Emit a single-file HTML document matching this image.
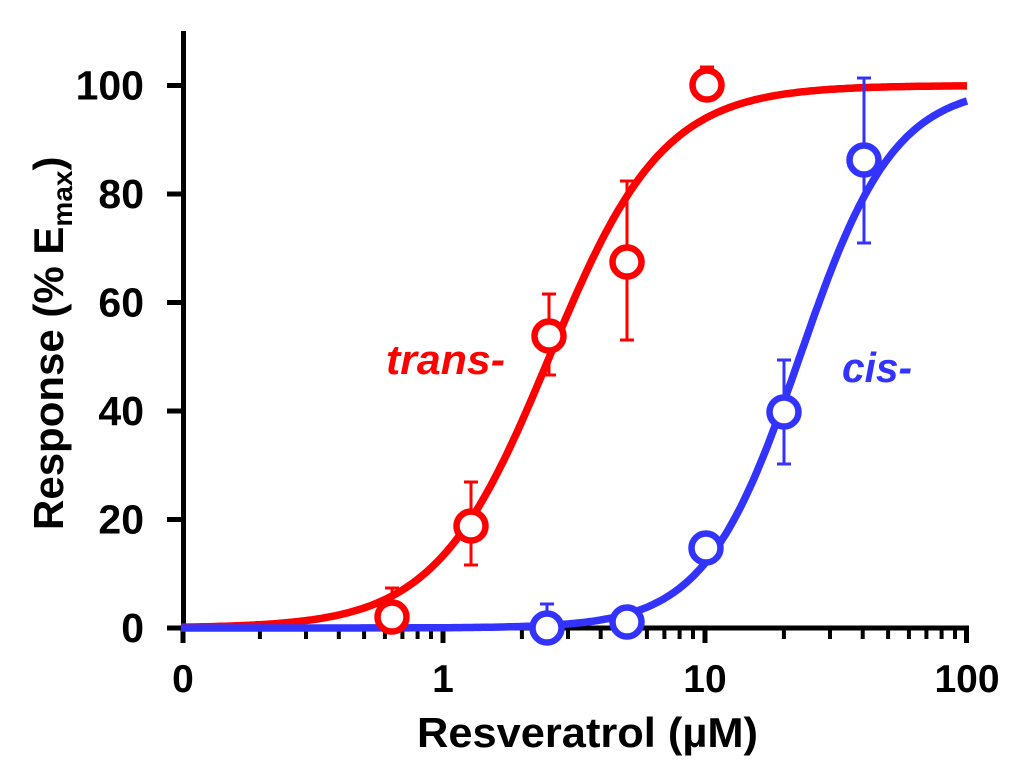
<!DOCTYPE html>
<html>
<head>
<meta charset="utf-8">
<style>
  html, body { margin: 0; padding: 0; background: #ffffff; }
  svg { display: block; }
  text { font-family: "Liberation Sans", Arial, sans-serif; font-weight: bold; }
</style>
</head>
<body>
<svg width="1024" height="783" viewBox="0 0 1024 783" xmlns="http://www.w3.org/2000/svg">
  <rect x="0" y="0" width="1024" height="783" fill="#ffffff"/>

  <!-- Axes -->
  <line x1="183.5" y1="31" x2="183.5" y2="630.5" stroke="#000" stroke-width="5"/>
  <line x1="181" y1="628" x2="969" y2="628" stroke="#000" stroke-width="5"/>

  <!-- Y ticks -->
  <g stroke="#000" stroke-width="5">
    <line x1="167" y1="628" x2="184" y2="628"/>
    <line x1="167" y1="519.5" x2="184" y2="519.5"/>
    <line x1="167" y1="411" x2="184" y2="411"/>
    <line x1="167" y1="302.5" x2="184" y2="302.5"/>
    <line x1="167" y1="194" x2="184" y2="194"/>
    <line x1="167" y1="85.5" x2="184" y2="85.5"/>
  </g>

  <!-- X major ticks -->
  <g stroke="#000" stroke-width="5">
    <line x1="183" y1="628" x2="183" y2="643"/>
    <line x1="443" y1="628" x2="443" y2="643"/>
    <line x1="705" y1="628" x2="705" y2="643"/>
    <line x1="966.5" y1="628" x2="966.5" y2="643"/>
  </g>
  <!-- X minor ticks -->
  <g stroke="#000" stroke-width="4">
    <line x1="259.9" y1="628" x2="259.9" y2="639"/>
    <line x1="306.0" y1="628" x2="306.0" y2="639"/>
    <line x1="338.8" y1="628" x2="338.8" y2="639"/>
    <line x1="364.1" y1="628" x2="364.1" y2="639"/>
    <line x1="384.9" y1="628" x2="384.9" y2="639"/>
    <line x1="402.4" y1="628" x2="402.4" y2="639"/>
    <line x1="417.6" y1="628" x2="417.6" y2="639"/>
    <line x1="431.0" y1="628" x2="431.0" y2="639"/>

    <line x1="521.9" y1="628" x2="521.9" y2="639"/>
    <line x1="568.0" y1="628" x2="568.0" y2="639"/>
    <line x1="600.7" y1="628" x2="600.7" y2="639"/>
    <line x1="626.1" y1="628" x2="626.1" y2="639"/>
    <line x1="646.9" y1="628" x2="646.9" y2="639"/>
    <line x1="664.4" y1="628" x2="664.4" y2="639"/>
    <line x1="679.6" y1="628" x2="679.6" y2="639"/>
    <line x1="693.0" y1="628" x2="693.0" y2="639"/>

    <line x1="783.9" y1="628" x2="783.9" y2="639"/>
    <line x1="830.0" y1="628" x2="830.0" y2="639"/>
    <line x1="862.7" y1="628" x2="862.7" y2="639"/>
    <line x1="888.1" y1="628" x2="888.1" y2="639"/>
    <line x1="908.9" y1="628" x2="908.9" y2="639"/>
    <line x1="926.4" y1="628" x2="926.4" y2="639"/>
    <line x1="941.6" y1="628" x2="941.6" y2="639"/>
    <line x1="955.0" y1="628" x2="955.0" y2="639"/>
  </g>

  <!-- Y tick labels -->
  <g font-size="41" text-anchor="end" fill="#000">
    <text x="144" y="642">0</text>
    <text x="144" y="533.5">20</text>
    <text x="144" y="425">40</text>
    <text x="144" y="316.5">60</text>
    <text x="144" y="208">80</text>
    <text x="144" y="99.5">100</text>
  </g>

  <!-- X tick labels -->
  <g font-size="39" text-anchor="middle" fill="#000">
    <text x="183" y="692">0</text>
    <text x="443" y="692">1</text>
    <text x="705" y="692">10</text>
    <text x="967" y="692">100</text>
  </g>

  <!-- Axis titles -->
  <text x="417" y="747" font-size="42" textLength="341" lengthAdjust="spacingAndGlyphs" fill="#000">Resveratrol (µM)</text>
  <text transform="translate(63,530) rotate(-90)" font-size="42" fill="#000">Response (% E<tspan font-size="28" dy="9">max</tspan><tspan dy="-9">)</tspan></text>

  <!-- Red curve (trans-) -->
  <polyline id="redc" fill="none" stroke="#ff0000" stroke-width="7.5" stroke-linejoin="round" stroke-linecap="butt"
    points="181,627.3 207.2,626.9 233.4,626.3 259.6,625.2 285.8,623.5 312,620.7 338.2,616.3 364.4,609.3 390.6,598.3 416.8,581.4 443,556.4 469.2,520.6 495.4,472.8 521.6,414.3 547.8,349.7 574,285.7 600.2,229.3 626.4,184.2 652.6,150.6 678.8,127.8 705,112.6 731.2,102.3 757.4,95.8 783.6,92.0 809.8,89.6 836,88.0 862.2,87.1 888.4,86.5 914.6,86.1 940.8,85.9 967,85.7"/>

  <!-- Blue curve (cis-) -->
  <polyline id="bluec" fill="none" stroke="#3333ff" stroke-width="7.5" stroke-linejoin="round" stroke-linecap="butt"
    points="181,628 443,627.6 495.4,626.9 521.6,626.0 547.8,624.7 574,622.4 600.2,618.6 626.4,613.5 652.6,603.7 678.8,587 705,560 731.2,519.5 757.4,466.3 783.6,401.2 809.8,329.6 836,261.8 862.2,205.4 888.4,163.1 914.6,134.3 940.8,115.3 967,103.4"/>

  <!-- Red error bars -->
  <g stroke="#ff0000" stroke-width="3" fill="none">
    <line x1="392" y1="617" x2="392" y2="588"/><line x1="385" y1="588" x2="399" y2="588"/>
    <line x1="471" y1="482" x2="471" y2="565"/><line x1="464" y1="482" x2="478" y2="482"/><line x1="464" y1="565" x2="478" y2="565"/>
    <line x1="549" y1="294" x2="549" y2="375"/><line x1="542" y1="294" x2="556" y2="294"/><line x1="542" y1="375" x2="556" y2="375"/>
    <line x1="627" y1="181" x2="627" y2="340"/><line x1="620" y1="181" x2="634" y2="181"/><line x1="620" y1="340" x2="634" y2="340"/>
    <line x1="707" y1="67" x2="707" y2="85"/><line x1="700" y1="67" x2="714" y2="67"/>
  </g>

  <!-- Blue error bars -->
  <g stroke="#3333ff" stroke-width="3" fill="none">
    <line x1="547" y1="604" x2="547" y2="628"/><line x1="540" y1="604" x2="554" y2="604"/>
    <line x1="706" y1="533" x2="706" y2="548"/><line x1="699" y1="533" x2="713" y2="533"/>
    <line x1="784" y1="360" x2="784" y2="464"/><line x1="777" y1="360" x2="791" y2="360"/><line x1="777" y1="464" x2="791" y2="464"/>
    <line x1="864" y1="78" x2="864" y2="243"/><line x1="857" y1="78" x2="871" y2="78"/><line x1="857" y1="243" x2="871" y2="243"/>
  </g>

  <!-- Red points -->
  <g stroke="#ff0000" stroke-width="6.5" fill="#ffffff">
    <circle cx="392" cy="617" r="14.5"/>
    <circle cx="471" cy="526" r="14.5"/>
    <circle cx="549" cy="336" r="14.5"/>
    <circle cx="627" cy="262" r="14.5"/>
    <circle cx="707" cy="85" r="14.5"/>
  </g>

  <!-- Blue points -->
  <g stroke="#3333ff" stroke-width="6.5" fill="#ffffff">
    <circle cx="547" cy="628" r="14.5"/>
    <circle cx="627" cy="622" r="14.5"/>
    <circle cx="706" cy="548" r="14.5"/>
    <circle cx="784" cy="412" r="14.5"/>
    <circle cx="864" cy="160" r="14.5"/>
  </g>

  <!-- Series labels -->
  <text x="386" y="374" font-size="42" font-style="italic" fill="#ff0000" textLength="119" lengthAdjust="spacingAndGlyphs">trans-</text>
  <text x="842" y="382" font-size="42" font-style="italic" fill="#3333ff" textLength="70" lengthAdjust="spacingAndGlyphs">cis-</text>
</svg>
<script>
(function(){
  function pts(ec50, n){
    var a=[], le=Math.log10(ec50);
    for(var i=0;i<=300;i++){
      var u=-1+i*0.01;
      var v=100/(1+Math.pow(10,n*(le-u)));
      var x=443+262*u, y=628-5.425*v;
      a.push(x.toFixed(1)+","+y.toFixed(1));
    }
    return a.join(" ");
  }
  try{
    document.getElementById("redc").setAttribute("points", pts(2.55, 2.0));
    document.getElementById("bluec").setAttribute("points", pts(23, 2.4));
  }catch(e){}
})();
</script>
</body>
</html>
